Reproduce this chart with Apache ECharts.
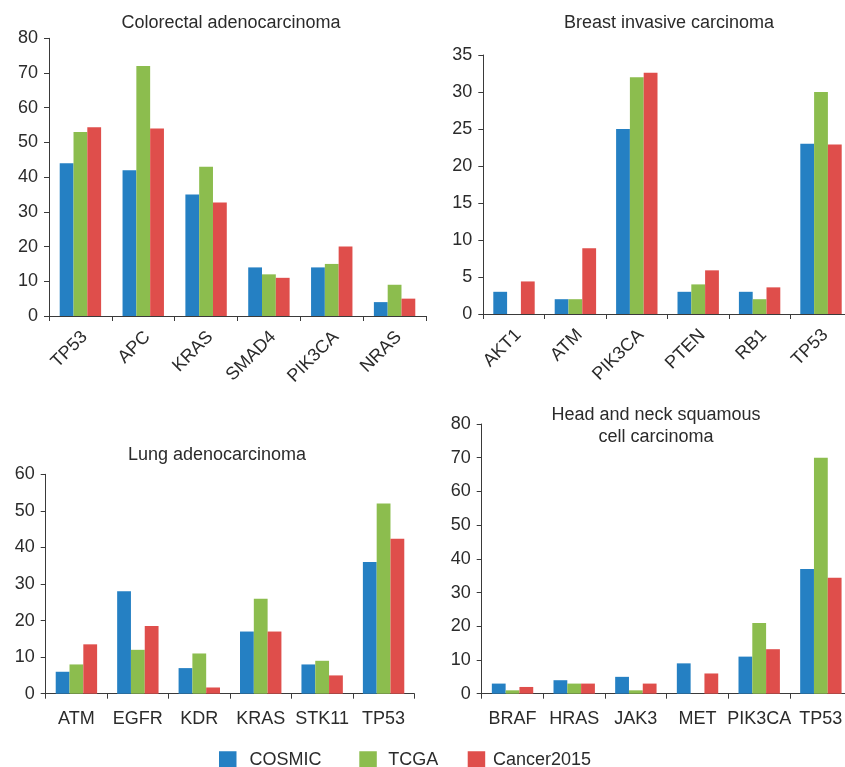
<!DOCTYPE html>
<html>
<head>
<meta charset="utf-8">
<script src="https://cdn.jsdelivr.net/npm/echarts@6/dist/echarts.min.js"></script>
<style>
  html, body { margin: 0; padding: 0; background: #fff; overflow: hidden; }
  #wrap { width: 845px; height: 767px; overflow: hidden; }
  #chart { width: 860px; height: 767px; }
</style>
</head>
<body>
<div id="wrap"><div id="chart"></div></div>
<script>
// Mutation frequencies (%) per gene, by data source
const seriesNames = ['COSMIC', 'TCGA', 'Cancer2015'];
const seriesColors = ['#2580c3', '#8cbd4e', '#df4e4b'];

const colorectalGenes = ['TP53', 'APC', 'KRAS', 'SMAD4', 'PIK3CA', 'NRAS'];
const colorectalCosmic = [44, 42, 35, 14, 14, 4];
const colorectalTcga = [53, 72, 43, 12, 15, 9];
const colorectalCancer2015 = [54.4, 54, 32.7, 11, 20, 5];

const breastGenes = ['AKT1', 'ATM', 'PIK3CA', 'PTEN', 'RB1', 'TP53'];
const breastCosmic = [3, 2, 25, 3, 3, 23];
const breastTcga = [0, 2, 32, 4, 2, 30];
const breastCancer2015 = [4.4, 8.9, 32.6, 5.9, 3.6, 22.9];

const lungGenes = ['ATM', 'EGFR', 'KDR', 'KRAS', 'STK11', 'TP53'];
const lungCosmic = [6, 28, 7, 17, 8, 36];
const lungTcga = [8, 12, 11, 26, 9, 52];
const lungCancer2015 = [13.5, 18.5, 1.7, 17, 5, 42.4];

const headNeckGenes = ['BRAF', 'HRAS', 'JAK3', 'MET', 'PIK3CA', 'TP53'];
const headNeckCosmic = [3, 4, 5, 9, 11, 37];
const headNeckTcga = [1, 3, 1, 0, 21, 70];
const headNeckCancer2015 = [2, 3, 3, 6, 13.2, 34.4];

const panelTitles = [
  'Colorectal adenocarcinoma',
  'Breast invasive carcinoma',
  'Lung adenocarcinoma',
  'Head and neck squamous\ncell carcinoma'
];
const yMax = [80, 35, 60, 80];
const yStep = [10, 5, 10, 10];

const FONT = '"Liberation Sans", Arial, Helvetica, sans-serif';
const TEXT = '#2b2b2b';
const AXIS = '#3a3a3a';

const panels = [
  { genes: colorectalGenes, values: [colorectalCosmic, colorectalTcga, colorectalCancer2015],
    grid: { left: 49, top: 38.3, width: 377, height: 277.7 }, rotate: 45,
    title: { x: 231, y: 23 } },
  { genes: breastGenes, values: [breastCosmic, breastTcga, breastCancer2015],
    grid: { left: 483.3, top: 55, width: 368.4, height: 259 }, rotate: 45,
    title: { x: 669, y: 23 } },
  { genes: lungGenes, values: [lungCosmic, lungTcga, lungCancer2015],
    grid: { left: 45.7, top: 474.3, width: 368.6, height: 219.4 }, rotate: 0,
    title: { x: 217, y: 455 } },
  { genes: headNeckGenes, values: [headNeckCosmic, headNeckTcga, headNeckCancer2015],
    grid: { left: 481.7, top: 424, width: 370, height: 269.7 }, rotate: 0,
    title: { x: 656, y: 426 } }
];

const grid = [], xAxis = [], yAxis = [], series = [], graphic = [];

panels.forEach((p, i) => {
  grid.push(Object.assign({ containLabel: false }, p.grid));
  const label = {
    interval: 0, rotate: p.rotate, margin: 16,
    color: TEXT, fontSize: 18, fontFamily: FONT
  };
  if (p.rotate) {
    label.margin = 14;
    label.align = 'right';
    label.verticalAlign = 'top';
    label.lineHeight = 12;
  }
  xAxis.push({
    type: 'category', gridIndex: i, data: p.genes, boundaryGap: true,
    axisLine: { lineStyle: { color: AXIS, width: 1 } },
    axisTick: { show: true, length: 5, alignWithLabel: false, lineStyle: { color: AXIS } },
    axisLabel: label,
    splitLine: { show: false }
  });
  yAxis.push({
    type: 'value', gridIndex: i, min: 0, max: yMax[i], interval: yStep[i],
    axisLine: { show: true, lineStyle: { color: AXIS, width: 1 } },
    axisTick: { show: true, length: 5, lineStyle: { color: AXIS } },
    axisLabel: { margin: 11, color: TEXT, fontSize: 18, fontFamily: FONT },
    splitLine: { show: false }
  });
  seriesNames.forEach((name, s) => {
    series.push({
      name: name, type: 'bar', xAxisIndex: i, yAxisIndex: i,
      data: p.values[s], barWidth: 13.8, barGap: '0%',
      itemStyle: { color: seriesColors[s] },
      emphasis: { disabled: true }, animation: false
    });
  });
  graphic.push({
    type: 'text', x: p.title.x, y: p.title.y,
    style: {
      text: panelTitles[i], fill: TEXT, font: '18px ' + FONT,
      textAlign: 'center', textVerticalAlign: 'middle', lineHeight: 22
    }
  });
});

// One legend entry per source, placed along the bottom
const legendLeft = [219, 359.3, 467.7];
const legendTextPad = [8, 6.5, 2.7];
const legend = seriesNames.map((name, s) => ({
  data: [name], left: legendLeft[s], top: 751, padding: 0,
  itemWidth: 17.5, itemHeight: 17.5, icon: 'rect', selectedMode: false,
  textStyle: { fontSize: 18, color: TEXT, fontFamily: FONT, padding: [0, 0, 0, legendTextPad[s]] }
}));

const chart = echarts.init(document.getElementById('chart'), null, { renderer: 'canvas' });
chart.setOption({
  animation: false,
  textStyle: { fontFamily: FONT },
  grid: grid, xAxis: xAxis, yAxis: yAxis, series: series, graphic: graphic,
  legend: legend
});
</script>
</body>
</html>
